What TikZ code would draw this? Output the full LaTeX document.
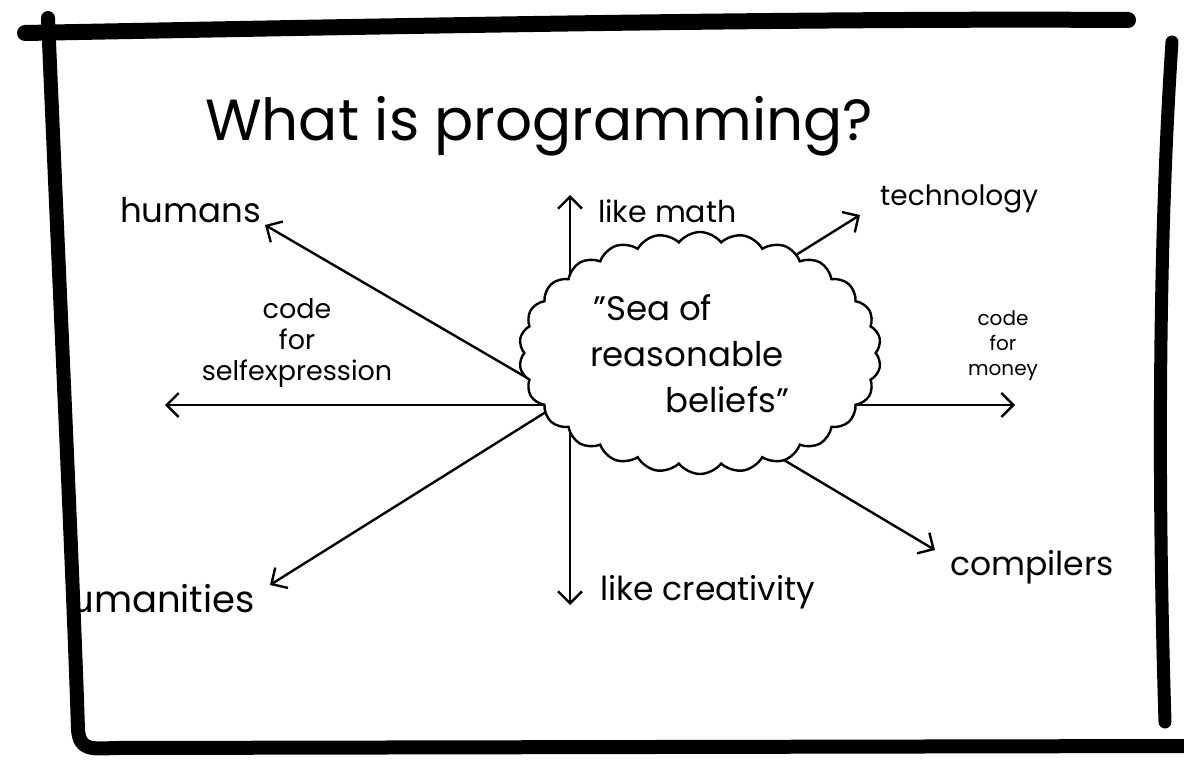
\documentclass[tikz,border=0pt]{standalone}
\usepackage{fontspec}
\setmainfont{Poppins}
\usetikzlibrary{arrows.meta,shapes.symbols}
\begin{document}
\begin{tikzpicture}[x=1pt,y=-1pt,
  frame/.style={line width=14pt,line cap=round,line join=round},
  arr/.style={line width=2.4pt,line cap=round,-{Straight Barb[length=12pt,width=24pt,line width=2.4pt]}},
  lbl/.style={inner sep=0pt},
  fs/.style={font=\fontsize{#1}{#1}\selectfont},
]
\useasboundingbox (0,0) rectangle (1184,760);
\fill[white] (0,0) rectangle (1184,760);

% hubs and arrow tips
\coordinate (hub) at (565,400);
\coordinate (hubC) at (700,410);
\coordinate (hubT) at (740,290);
\coordinate (humansTip) at (265,225);
\coordinate (mathTip) at (570,195);
\coordinate (mathBase) at (570,400);
\coordinate (creaTip) at (570,605);
\coordinate (techTip) at (860,215);
\coordinate (leftTip) at (165,405);
\coordinate (leftBase) at (565,405);
\coordinate (rightBase) at (800,405);
\coordinate (rightTip) at (1015,405);
\coordinate (humanitiesTip) at (270,585);
\coordinate (compTip) at (935,550);

% arrows (behind the cloud)
\draw[arr] (hub) -- (humansTip);
\draw[arr] (mathBase) -- (mathTip);
\draw[arr] (mathBase) -- (creaTip);
\draw[arr] (hubT) -- (techTip);
\draw[arr] (leftBase) -- (leftTip);
\draw[arr] (rightBase) -- (rightTip);
\draw[arr] (hub) -- (humanitiesTip);
\draw[arr] (hubC) -- (compTip);

% cloud
\node[cloud, cloud puffs=26, cloud puff arc=105, cloud ignores aspect,
      minimum width=362pt, minimum height=242pt, draw, line width=2.4pt,
      fill=white] (cloud) at (700,353) {};
\node[lbl, anchor=base west, align=left, font=\fontsize{34}{46}\selectfont]
  (sea) at (590,412) {\hspace*{3pt}\symbol{34}Sea of\\reasonable\\\hspace*{75pt}beliefs\symbol{34}};

% labels
\node[lbl, anchor=base west, fs=58] (title) at (205,140) {What is programming?};
\node[lbl, anchor=base west, fs=34] (humans) at (120,222) {humans};
\node[lbl, anchor=base west, fs=30] (math) at (598,222) {like math};
\node[lbl, anchor=base west, fs=28] (tech) at (880,205) {technology};
\node[lbl, anchor=base, align=center, font=\fontsize{27}{31}\selectfont]
  (selfexp) at (297,380) {code\\for\\selfexpression};
\node[lbl, anchor=base, align=center, font=\fontsize{20}{25}\selectfont]
  (money) at (1003,375) {code\\for\\money};
\node[lbl, anchor=base west, fs=33] (comp) at (950,575) {compilers};
\node[lbl, anchor=base west, fs=33] (crea) at (600,600) {like creativity};
\begin{scope}
  \clip (74,540) rectangle (400,680);
  \node[lbl, anchor=base east, fs=37] (humanities) at (255,612) {humanities};
\end{scope}

% frame
\draw[frame, line width=16pt] (25,33) .. controls (400,26) and (800,18) .. (1128,20);
\draw[frame] (48,18) .. controls (60,300) and (74,600) .. (78,730)
  .. controls (80,750) and (90,749) .. (115,748) -- (1190,746);
\draw[frame, line width=13pt] (1172,42) .. controls (1158,250) and (1158,500) .. (1165,722);
\end{tikzpicture}
\end{document}
